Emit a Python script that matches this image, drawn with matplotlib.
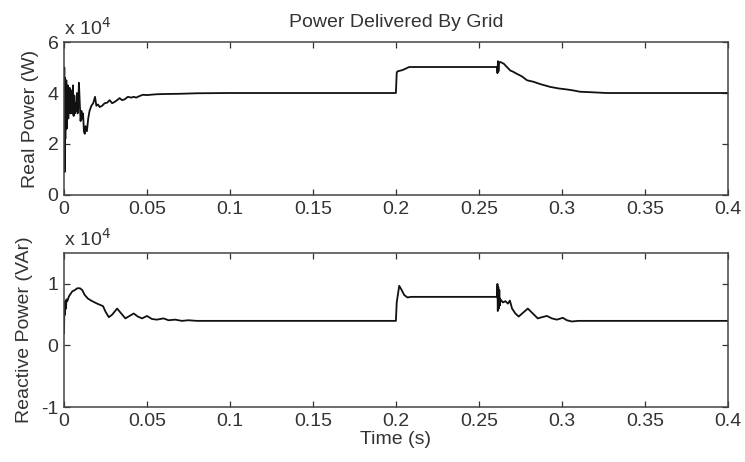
import numpy as np
import matplotlib
matplotlib.use("Agg")
import matplotlib.pyplot as plt

plt.rcParams['font.family'] = ['Liberation Sans', 'DejaVu Sans']
plt.rcParams['axes.unicode_minus'] = False

# --- data (power in W / VAr, time in s) ---
# real power, start-up transient
t_real_start = [0, 0.0002, 0.0004, 0.0006, 0.0008, 0.001, 0.0012, 0.0014, 0.0016, 0.0018,
                0.002, 0.0023, 0.0026, 0.0029, 0.0032, 0.0035, 0.0038, 0.0041, 0.0044, 0.0047,
                0.005, 0.0054, 0.0058, 0.0062, 0.0066, 0.007, 0.0074, 0.0078, 0.0082, 0.0086,
                0.009, 0.0095, 0.0100, 0.0105, 0.011, 0.0115, 0.012, 0.0125, 0.013, 0.0138,
                0.0146, 0.0154, 0.0165, 0.0176, 0.0187, 0.0195, 0.0205, 0.0215, 0.023, 0.0245,
                0.026, 0.0275, 0.029, 0.0305, 0.032, 0.0335, 0.035, 0.0365, 0.0385, 0.0405,
                0.042, 0.0435, 0.0455, 0.0475, 0.05, 0.0555, 0.06, 0.07, 0.08, 0.1]
p_real_start = [42000, 50000, 9000, 46000, 22000, 44000, 30000, 45000, 26000, 42000,
                31000, 43000, 30000, 41000, 33000, 42000, 32000, 40000, 34000, 41000,
                32000, 43000, 31000, 39000, 32000, 36000, 33000, 40000, 32000, 35000,
                44000, 36000, 29000, 33000, 30000, 32000, 25000, 24000, 27000, 25000,
                30000, 33000, 35000, 36000, 38500, 35000, 35500, 34500, 35000, 36000,
                36200, 37200, 36000, 36500, 37200, 38000, 37200, 37500, 38500, 38200,
                38500, 38200, 38800, 39300, 39200, 39500, 39600, 39700, 39900, 40000]
# real power, load step at 0.2 s and event at 0.26 s
t_real_late = [0.2, 0.2005, 0.201, 0.204, 0.208, 0.261, 0.2612, 0.2615, 0.2618, 0.2622,
               0.2628, 0.265, 0.2672, 0.269, 0.2705, 0.273, 0.276, 0.279, 0.283, 0.287,
               0.293, 0.298, 0.303, 0.307, 0.311, 0.318, 0.327, 0.4]
p_real_late = [40000, 48000, 48500, 49000, 50200, 50200, 47800, 52500, 48500, 52000,
               52200, 51500, 50000, 48800, 48400, 47500, 46500, 45000, 44400, 43500,
               42400, 41800, 41400, 41000, 40500, 40300, 40000, 40000]

# reactive power
t_reac = [0, 0.0003, 0.0006, 0.0009, 0.0012, 0.0015, 0.002, 0.003, 0.004, 0.005,
          0.0065, 0.008, 0.0096, 0.011, 0.0125, 0.0145, 0.017, 0.02, 0.0235, 0.025,
          0.027, 0.029, 0.032, 0.0345, 0.037, 0.0395, 0.042, 0.0445, 0.047, 0.05,
          0.053, 0.056, 0.06, 0.063, 0.067, 0.071, 0.075, 0.08, 0.2, 0.2005,
          0.2015, 0.202, 0.2035, 0.205, 0.207, 0.209, 0.261, 0.2612, 0.2614, 0.2617,
          0.262, 0.2623, 0.2627, 0.263, 0.2645, 0.266, 0.2675, 0.2687, 0.27, 0.272,
          0.274, 0.2765, 0.2795, 0.2825, 0.2855, 0.288, 0.291, 0.294, 0.297, 0.3006,
          0.303, 0.306, 0.31, 0.4]
q_reac = [2000, 7000, 5000, 7200, 6000, 7500, 7200, 8000, 8400, 8800,
          9000, 9300, 9300, 9000, 8200, 7600, 7200, 6800, 6400, 5500,
          4600, 5000, 6000, 5200, 4400, 4800, 5200, 4700, 4400, 4800,
          4300, 4200, 4400, 4100, 4200, 4000, 4100, 4000, 4000, 7000,
          8800, 9700, 9000, 8200, 7800, 7900, 7900, 10000, 5600, 9500,
          6000, 9000, 6500, 7500, 7000, 7200, 6800, 7300, 6000, 5200,
          4700, 5300, 6000, 5200, 4400, 4600, 4800, 4400, 4200, 4500,
          4100, 3900, 4000, 4000]

x_ticks = [0, 0.05, 0.1, 0.15, 0.2, 0.25, 0.3, 0.35, 0.4]
x_labels = ['0', '0.05', '0.1', '0.15', '0.2', '0.25', '0.3', '0.35', '0.4']
real_ticks = [0, 2, 4, 6]
reac_ticks = [-1, 0, 1]

fs = 14
txt = '#333333'
fig = plt.figure(figsize=(7.45, 4.62), dpi=100)
ax1 = fig.add_axes([0.0859, 0.578, 0.891, 0.331])
ax2 = fig.add_axes([0.0859, 0.119, 0.891, 0.333])

t_real = np.array(t_real_start + t_real_late)
p_real = np.array(p_real_start + p_real_late) / 1e4
ax1.plot(t_real, p_real, color='#111111', lw=1.3)
ax2.plot(t_reac, np.array(q_reac) / 1e4, color='#111111', lw=1.3)

for ax in (ax1, ax2):
    ax.set_xlim(0, 0.4)
    ax.set_xticks(x_ticks)
    ax.set_xticklabels(x_labels)
    ax.tick_params(direction='in', top=True, right=True, length=4, width=0.9,
                   labelsize=fs, colors=txt, pad=4)
    for sp in ax.spines.values():
        sp.set_color('#444444')
        sp.set_linewidth(1.1)
    ax.text(0, 1.05, r'x 10$^4$', transform=ax.transAxes, fontsize=fs,
            ha='left', va='baseline', color=txt)

ax1.set_ylim(0, 6)
ax1.set_yticks(real_ticks)
ax1.set_ylabel('Real Power (W)', fontsize=fs, color=txt, labelpad=6)
ax1.set_title('Power Delivered By Grid', fontsize=fs, color=txt, pad=11)

ax2.set_ylim(-1, 1.5)
ax2.set_yticks(reac_ticks)
ax2.set_ylabel('Reactive Power (VAr)', fontsize=fs, color=txt, labelpad=6)
ax2.set_xlabel('Time (s)', fontsize=fs, color=txt, labelpad=1)

fig.savefig('out.png', dpi=100)
